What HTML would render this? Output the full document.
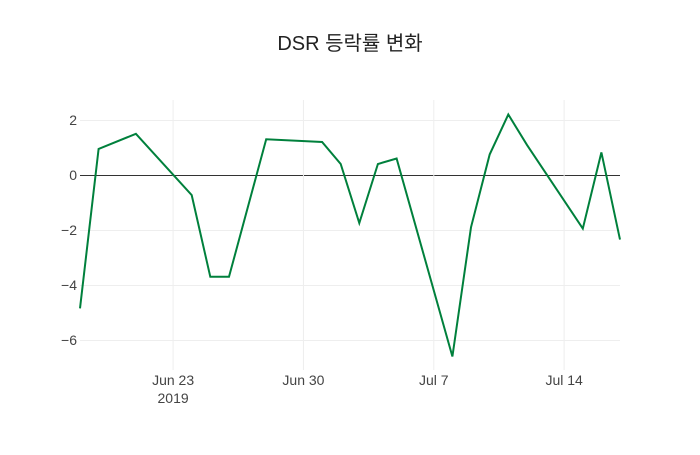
<!DOCTYPE html>
<html><head><meta charset="utf-8">
<style>
html,body{margin:0;padding:0;background:#fff;}
svg text{font-family:"Liberation Sans","Noto Sans CJK KR",sans-serif;}
</style></head>
<body>
<svg id="chart" width="700" height="450" xmlns="http://www.w3.org/2000/svg">
<rect width="700" height="450" fill="#fff"/>
<text x="350" y="50" text-anchor="middle" font-size="20" fill="#222">DSR 등락률 변화</text>
<g id="grid"></g>
<g id="axes"></g>
<path id="line" fill="none" stroke="#00803c" stroke-width="2"/>
</svg>
<script>
const dates = ["2019-06-18","2019-06-19","2019-06-21","2019-06-24","2019-06-25","2019-06-26","2019-06-28","2019-07-01","2019-07-02","2019-07-03","2019-07-04","2019-07-05","2019-07-08","2019-07-09","2019-07-10","2019-07-11","2019-07-12","2019-07-15","2019-07-16","2019-07-17"];
const values = [-4.85,0.95,1.5,-0.73,-3.7,-3.7,1.3,1.2,0.4,-1.75,0.4,0.6,-6.6,-1.9,0.75,2.2,1.1,-1.95,0.82,-2.35];
const yTicks = [2,0,-2,-4,-6];
const xTickDates = ["2019-06-23","2019-06-30","2019-07-07","2019-07-14"];
const xTickLabels = ["Jun 23","Jun 30","Jul 7","Jul 14"];

const NS="http://www.w3.org/2000/svg";
const L=80,R=620,T=100,B=370;
const d0=Date.parse("2019-06-18"), d1=Date.parse("2019-07-17");
const xs=d=>L+(Date.parse(d)-d0)/(d1-d0)*(R-L);
const ys=v=>175-v*27.5;
const grid=document.getElementById('grid'), axes=document.getElementById('axes');
function mk(tag,attrs,parent){const e=document.createElementNS(NS,tag);for(const k in attrs)e.setAttribute(k,attrs[k]);parent.appendChild(e);return e;}
yTicks.forEach(v=>{
  const y=ys(v)+0.5;
  const l=mk('line',{x1:L,x2:R,y1:y,y2:y,stroke:v===0?'#333':'#eee','stroke-width':1},grid);
  
  
  const t=mk('text',{x:L-3,y:ys(v)+5,'text-anchor':'end','font-size':14,fill:'#444'},axes);
  t.textContent=v<0?'\u2212'+Math.abs(v):String(v);
  
  
});
xTickDates.forEach((d,i)=>{
  const x=xs(d);
  const l=mk('line',{x1:x,x2:x,y1:T,y2:B,stroke:'#eee','stroke-width':1},grid);
  
  
  const t=mk('text',{x:x,y:385,'text-anchor':'middle','font-size':14,fill:'#444'},axes);
  t.textContent=xTickLabels[i];
  
  
});
const yr=mk('text',{x:xs(xTickDates[0]),y:403,'text-anchor':'middle','font-size':14,fill:'#444'},axes);
yr.textContent='2019';


document.getElementById('line').setAttribute('d',dates.map((d,i)=>(i?'L':'M')+xs(d).toFixed(1)+','+ys(values[i]).toFixed(1)).join(''));
</script>
</body></html>
